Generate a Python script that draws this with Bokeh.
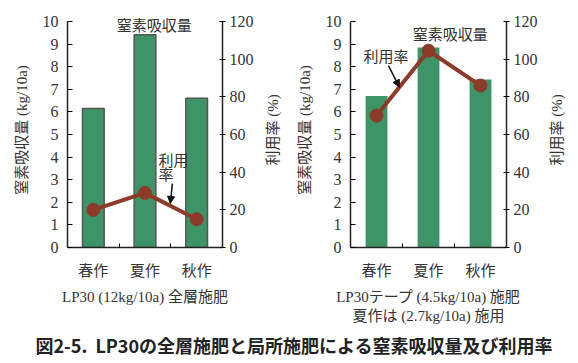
from bokeh.plotting import figure
from bokeh.models import (Range1d, LinearAxis, FixedTicker, Label, Arrow,
                          NormalHead, Div, ColumnDataSource)
from bokeh.layouts import column, row
from bokeh.embed import file_html
from bokeh.resources import INLINE

categories = ["春作", "夏作", "秋作"]
uptake_whole = [6.15, 9.42, 6.6]      # 窒素吸収量 (kg/10a), 全層施肥
rate_whole = [20, 29, 15]             # 利用率 (%)
uptake_tape = [6.7, 8.85, 7.43]       # 窒素吸収量 (kg/10a), テープ施肥
rate_tape = [70, 104.5, 86]           # 利用率 (%)
left_ticks = list(range(0, 11))
right_ticks = list(range(0, 121, 20))

subtitle_left = "LP30 (12kg/10a) 全層施肥"
subtitle_right = "LP30テープ (4.5kg/10a) 施肥\n夏作は (2.7kg/10a) 施用"
caption = "図2-5.  LP30の全層施肥と局所施肥による窒素吸収量及び利用率"
rate_axis_title = "利用率 (%)"

SERIF = "Liberation Serif, Noto Sans CJK JP"
TXT = "#333333"
GREEN = "#3d9467"
BROWN = "#8e3a28"
FIG_H = 328
TOP = 12
FRAME_H = 235
PAD = 0.04   # headroom above the axes' top tick (fraction of the range)


def make_chart(uptake, rate, subtitle, bar_border, border_left, frame_w,
               uptake_label_xy, rate_labels, arrow_xy):
    top_l = 10 * (1 + PAD)
    top_r = 120 * (1 + PAD)
    p = figure(width=border_left + frame_w + 36, height=FIG_H,
               output_backend="svg", toolbar_location=None,
               x_range=Range1d(0, 3), y_range=Range1d(0, top_l),
               min_border_left=border_left, min_border_right=36,
               min_border_top=TOP, min_border_bottom=FIG_H - TOP - FRAME_H)
    p.outline_line_color = None
    p.grid.visible = False
    p.extra_y_ranges = {"rate": Range1d(0, top_r)}

    xs = [i + 0.5 for i in range(len(categories))]
    src = ColumnDataSource(dict(x=xs, cat=categories, up=uptake, rate=rate))
    if bar_border:
        p.vbar(x="x", top="up", width=0.42, source=src, fill_color=GREEN,
               line_color="#555555", line_width=1.5)
    else:
        p.vbar(x="x", top="up", width=0.42, source=src, fill_color=GREEN,
               line_color=None)
    p.line(x="x", y="rate", source=src, line_color=BROWN, line_width=4,
           y_range_name="rate")
    p.scatter(x="x", y="rate", source=src, size=13, fill_color=BROWN,
              line_color=BROWN, y_range_name="rate")

    # x axis
    xa = p.xaxis[0]
    xa.ticker = FixedTicker(ticks=xs, minor_ticks=[1, 2])
    xa.major_label_overrides = {x: c for x, c in zip(xs, categories)}
    xa.major_tick_in = 0
    xa.major_tick_out = 0
    xa.minor_tick_in = 4
    xa.minor_tick_out = 0
    xa.major_label_standoff = 15
    xa.major_label_text_font = SERIF
    xa.major_label_text_font_size = "15px"
    xa.major_label_text_color = TXT
    xa.axis_line_color = "#222222"
    xa.axis_line_width = 1.5
    xa.axis_label = subtitle
    xa.axis_label_standoff = 7
    xa.axis_label_text_font = SERIF
    xa.axis_label_text_font_size = "15px"
    xa.axis_label_text_font_style = "normal"
    xa.axis_label_text_color = TXT

    # left axis
    ya = p.yaxis[0]
    ya.ticker = FixedTicker(ticks=left_ticks)
    ya.bounds = (0, 10)
    ya.major_tick_in = 5
    ya.major_tick_out = 0
    ya.minor_tick_line_color = None
    ya.major_label_standoff = 9
    ya.major_label_text_font = SERIF
    ya.major_label_text_font_size = "16px"
    ya.major_label_text_color = TXT
    ya.axis_line_color = "#222222"
    ya.axis_line_width = 1.5
    ya.axis_label = "窒素吸収量 (kg/10a)"
    ya.axis_label_standoff = 10
    ya.axis_label_text_font = SERIF
    ya.axis_label_text_font_size = "15px"
    ya.axis_label_text_font_style = "normal"
    ya.axis_label_text_color = "#3a2f2c"

    # right axis (title is drawn by the narrow panel next to it)
    ra = LinearAxis(y_range_name="rate", ticker=FixedTicker(ticks=right_ticks))
    ra.bounds = (0, 120)
    ra.major_tick_in = 3
    ra.major_tick_out = 3
    ra.minor_tick_line_color = None
    ra.major_label_standoff = 4
    ra.major_label_text_font = SERIF
    ra.major_label_text_font_size = "16px"
    ra.major_label_text_color = TXT
    ra.axis_line_color = "#222222"
    ra.axis_line_width = 1.5
    p.add_layout(ra, "right")

    ux, uy = uptake_label_xy
    p.add_layout(Label(x=ux, y=uy, text="窒素吸収量", text_align="center",
                       text_baseline="middle", text_font=SERIF,
                       text_font_size="15px", text_color=TXT))
    for (lx, ly, t) in rate_labels:
        p.add_layout(Label(x=lx, y=ly, text=t, text_align="left",
                           text_baseline="middle", text_font=SERIF,
                           text_font_size="15px", text_color=TXT))
    (x0, y0), (x1, y1) = arrow_xy
    p.add_layout(Arrow(x_start=x0, y_start=y0, x_end=x1, y_end=y1,
                       line_color="#111111", line_width=1.5,
                       end=NormalHead(size=7, fill_color="#111111",
                                      line_color="#111111")))
    return p


def title_strip(width):
    # narrow panel whose left-axis title reads bottom-to-top like the original
    s = figure(width=width, height=FIG_H, output_backend="svg",
               toolbar_location=None, x_range=Range1d(0, 1),
               y_range=Range1d(0, 120 * (1 + PAD)), x_axis_location=None,
               min_border_left=24, min_border_right=0,
               min_border_top=TOP, min_border_bottom=FIG_H - TOP - FRAME_H)
    s.outline_line_color = None
    s.grid.visible = False
    ax = s.yaxis[0]
    ax.ticker = FixedTicker(ticks=[])
    ax.axis_line_color = None
    ax.major_tick_line_color = None
    ax.minor_tick_line_color = None
    ax.axis_label = rate_axis_title
    ax.axis_label_standoff = 2
    ax.axis_label_text_font = SERIF
    ax.axis_label_text_font_size = "15px"
    ax.axis_label_text_font_style = "normal"
    ax.axis_label_text_color = TXT
    return s


p1 = make_chart(uptake_whole, rate_whole, subtitle_left, True, 67, 155,
                (1.68, 9.82),
                [(1.76, 3.85, "利用"), (1.76, 3.19, "率")],
                ((2.03, 2.83), (1.99, 1.95)))
t1 = title_strip(31)
p2 = make_chart(uptake_tape, rate_tape, subtitle_right, False, 61, 156,
                (1.92, 9.42),
                [(0.25, 8.45, "利用率")],
                ((0.73, 8.05), (0.94, 7.1)))
t2 = title_strip(36)

cap = Div(text=caption, width=578, height=35,
          styles={"font-family": "'Noto Sans CJK JP', sans-serif",
                  "font-weight": "bold", "font-size": "18px",
                  "color": "#222222", "text-align": "center",
                  "width": "578px", "white-space": "pre",
                  "padding-top": "2px", "line-height": "20px"})

layout = column(row(p1, t1, p2, t2, spacing=0), cap, spacing=0)
open("out.html", "w").write(file_html(layout, INLINE))
